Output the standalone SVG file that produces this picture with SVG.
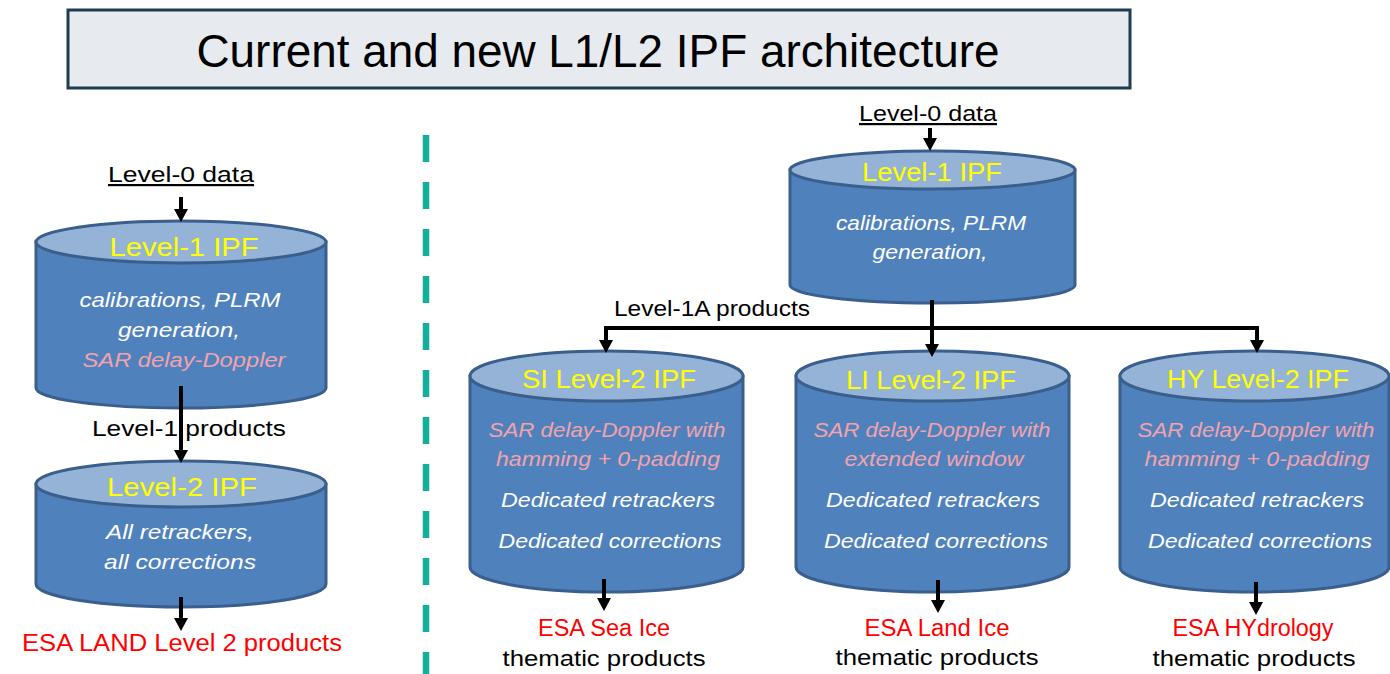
<svg xmlns="http://www.w3.org/2000/svg" width="1390" height="674" viewBox="0 0 1390 674">
<style>
text{font-family:"Liberation Sans",Arial,sans-serif;text-anchor:middle}
.body{fill:#4f81bd;stroke:#3a5f8c;stroke-width:3}
.cap{fill:#95b3d7;stroke:#3a5f8c;stroke-width:3}
.ttl{fill:#ffff00;font-size:26px}
.pk{fill:#f2a3ab;font-style:italic;font-size:21px}
.wh{fill:#ffffff;font-style:italic;font-size:21px}
.bl{fill:#000;font-size:22px}
.rd{fill:#ff0000;font-size:23px}
.ar{fill:none;stroke:#000;stroke-width:4;marker-end:url(#ah)}
</style>
<defs>
<marker id="ah" markerUnits="userSpaceOnUse" markerWidth="14" markerHeight="16" refX="0" refY="7" orient="auto" overflow="visible">
<path d="M0,0 L13,7 L0,14 Z" fill="#000"/>
</marker>
</defs>
<rect width="1390" height="674" fill="#fff"/>
<g id="title">
<rect x="68" y="10" width="1062" height="78" fill="#e7eaef" stroke="#1e3d4f" stroke-width="3"/>
<text x="598" y="67" style="font-size:46px" textLength="803" lengthAdjust="spacingAndGlyphs">Current and new L1/L2 IPF architecture</text>
</g>
<g id="divider">
<line x1="426" y1="135" x2="426" y2="674" stroke="#12b09a" stroke-width="6.5" stroke-dasharray="27 20"/>
</g>
<g id="left-l0">
<text class="bl" x="181" y="182" text-decoration="underline" textLength="146" lengthAdjust="spacingAndGlyphs">Level-0 data</text>
</g>
<g id="left-l1">
<path class="body" d="M36,242 L36,388 A145,20 0 0 0 326,388 L326,242 Z"/>
<ellipse class="cap" cx="181" cy="242" rx="145" ry="21"/>
<text class="ttl" x="184" y="256" textLength="149" lengthAdjust="spacingAndGlyphs">Level-1 IPF</text>
<text class="wh" x="180" y="307" textLength="201" lengthAdjust="spacingAndGlyphs">calibrations, PLRM</text>
<text class="wh" x="179" y="337" textLength="122" lengthAdjust="spacingAndGlyphs">generation,</text>
<text class="pk" x="184" y="367" textLength="203" lengthAdjust="spacingAndGlyphs">SAR delay-Doppler</text>
</g>
<g id="left-l1-label">
<text class="bl" x="189" y="436" textLength="194" lengthAdjust="spacingAndGlyphs">Level-1 products</text>
</g>
<g id="left-l2">
<path class="body" d="M36,484 L36,584 A145,23 0 0 0 326,584 L326,484 Z"/>
<ellipse class="cap" cx="181" cy="484" rx="145" ry="23"/>
<text class="ttl" x="182" y="496" textLength="150" lengthAdjust="spacingAndGlyphs">Level-2 IPF</text>
<text class="wh" x="180" y="539" textLength="148" lengthAdjust="spacingAndGlyphs">All retrackers,</text>
<text class="wh" x="180" y="569" textLength="152" lengthAdjust="spacingAndGlyphs">all corrections</text>
</g>
<g id="left-out">
<text class="rd" x="182" y="651" textLength="320" lengthAdjust="spacingAndGlyphs">ESA LAND Level 2 products</text>
</g>
<g id="right-l0">
<text class="bl" x="928" y="121" text-decoration="underline" textLength="138" lengthAdjust="spacingAndGlyphs">Level-0 data</text>
</g>
<g id="right-l1">
<path class="body" d="M790,170 L790,285 A142.5,18 0 0 0 1075,285 L1075,170 Z"/>
<ellipse class="cap" cx="932.5" cy="170" rx="142.5" ry="19"/>
<text class="ttl" x="932" y="181" textLength="140" lengthAdjust="spacingAndGlyphs">Level-1 IPF</text>
<text class="wh" x="931" y="230" textLength="190" lengthAdjust="spacingAndGlyphs">calibrations, PLRM</text>
<text class="wh" x="930" y="259" textLength="115" lengthAdjust="spacingAndGlyphs">generation,</text>
</g>
<g id="l1a-label">
<text class="bl" x="712" y="316" textLength="196" lengthAdjust="spacingAndGlyphs">Level-1A products</text>
</g>
<g id="si-l2">
<path class="body" d="M470,376 L470,567 A136.5,25 0 0 0 743,567 L743,376 Z"/>
<ellipse class="cap" cx="606.5" cy="376" rx="136.5" ry="25"/>
<text class="ttl" x="609" y="388" textLength="174" lengthAdjust="spacingAndGlyphs">SI Level-2 IPF</text>
<text class="pk" x="607" y="437" textLength="237" lengthAdjust="spacingAndGlyphs">SAR delay-Doppler with</text>
<text class="pk" x="608" y="466" textLength="224" lengthAdjust="spacingAndGlyphs">hamming + 0-padding</text>
<text class="wh" x="608" y="507" textLength="214" lengthAdjust="spacingAndGlyphs">Dedicated retrackers</text>
<text class="wh" x="610" y="548" textLength="223" lengthAdjust="spacingAndGlyphs">Dedicated corrections</text>
</g>
<g id="si-out">
<text class="rd" x="604" y="636" textLength="132" lengthAdjust="spacingAndGlyphs">ESA Sea Ice</text>
<text class="bl" x="604" y="666" textLength="203" lengthAdjust="spacingAndGlyphs">thematic products</text>
</g>
<g id="li-l2">
<path class="body" d="M796,376 L796,567 A136.5,25 0 0 0 1069,567 L1069,376 Z"/>
<ellipse class="cap" cx="932.5" cy="376" rx="136.5" ry="25"/>
<text class="ttl" x="931" y="389" textLength="170" lengthAdjust="spacingAndGlyphs">LI Level-2 IPF</text>
<text class="pk" x="932" y="437" textLength="237" lengthAdjust="spacingAndGlyphs">SAR delay-Doppler with</text>
<text class="pk" x="934" y="466" textLength="179" lengthAdjust="spacingAndGlyphs">extended window</text>
<text class="wh" x="933" y="507" textLength="214" lengthAdjust="spacingAndGlyphs">Dedicated retrackers</text>
<text class="wh" x="936" y="548" textLength="224" lengthAdjust="spacingAndGlyphs">Dedicated corrections</text>
</g>
<g id="li-out">
<text class="rd" x="937" y="636" textLength="145" lengthAdjust="spacingAndGlyphs">ESA Land Ice</text>
<text class="bl" x="937" y="665" textLength="203" lengthAdjust="spacingAndGlyphs">thematic products</text>
</g>
<g id="hy-l2">
<path class="body" d="M1120,376 L1120,567 A134.5,25 0 0 0 1389,567 L1389,376 Z"/>
<ellipse class="cap" cx="1254.5" cy="376" rx="134.5" ry="25"/>
<text class="ttl" x="1258" y="388" textLength="182" lengthAdjust="spacingAndGlyphs">HY Level-2 IPF</text>
<text class="pk" x="1256" y="437" textLength="237" lengthAdjust="spacingAndGlyphs">SAR delay-Doppler with</text>
<text class="pk" x="1257" y="466" textLength="225" lengthAdjust="spacingAndGlyphs">hamming + 0-padding</text>
<text class="wh" x="1257" y="507" textLength="214" lengthAdjust="spacingAndGlyphs">Dedicated retrackers</text>
<text class="wh" x="1260" y="548" textLength="224" lengthAdjust="spacingAndGlyphs">Dedicated corrections</text>
</g>
<g id="hy-out">
<text class="rd" x="1253" y="636" textLength="161" lengthAdjust="spacingAndGlyphs">ESA HYdrology</text>
<text class="bl" x="1254" y="666" textLength="203" lengthAdjust="spacingAndGlyphs">thematic products</text>
</g>
<g id="connectors">
<path class="ar" d="M181,197 L181,209"/>
<path class="ar" d="M181,386 L181,450"/>
<path class="ar" d="M181,597 L181,618"/>
<path class="ar" d="M930,128 L930,138"/>
<path class="ar" d="M932,300 L932,344"/>
<path class="ar" d="M932,328 L606,328 L606,340"/>
<path class="ar" d="M932,328 L1257,328 L1257,340"/>
<path class="ar" d="M604,579 L604,598"/>
<path class="ar" d="M938,580 L938,600"/>
<path class="ar" d="M1256,582 L1256,602"/>
</g>
</svg>
